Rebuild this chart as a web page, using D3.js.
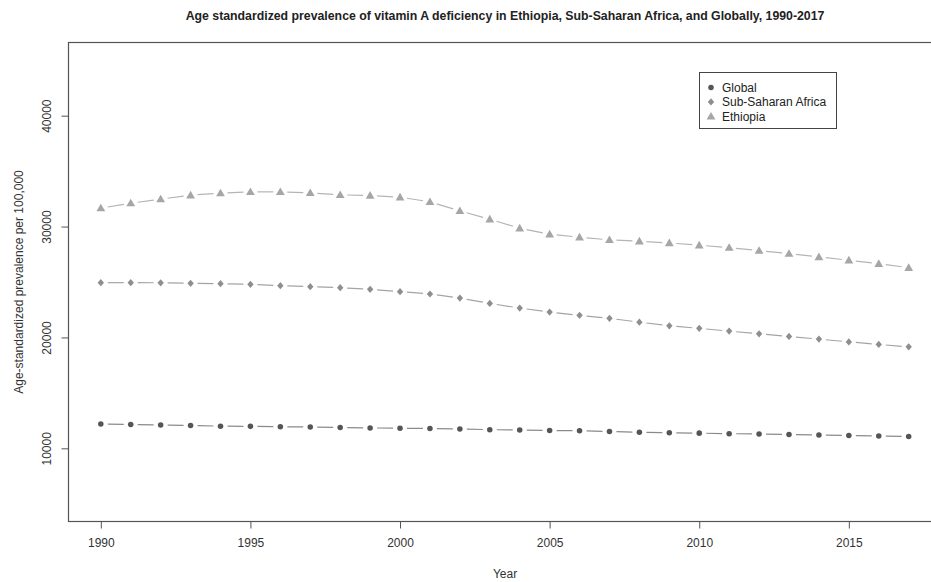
<!DOCTYPE html>
<html>
<head>
<meta charset="utf-8">
<script src="https://cdn.jsdelivr.net/npm/d3@7"></script>
<style>
  body { margin: 0; background: #fff; }
  svg { font-family: "Liberation Sans", Arial, sans-serif; }
</style>
</head>
<body>
<svg id="chart"></svg>
<script>
// years 1990..2017
const years = [1990, 1991, 1992, 1993, 1994, 1995, 1996, 1997, 1998, 1999,
               2000, 2001, 2002, 2003, 2004, 2005, 2006, 2007, 2008, 2009,
               2010, 2011, 2012, 2013, 2014, 2015, 2016, 2017]

const global = [12200, 12150, 12100, 12050, 12000, 11980, 11950, 11920, 11880, 11840,
                11810, 11790, 11750, 11680, 11650, 11610, 11580, 11520, 11450, 11400,
                11370, 11320, 11290, 11250, 11210, 11150, 11110, 11060]

const ssa = [24940, 24940, 24930, 24880, 24850, 24790, 24670, 24580, 24490, 24340,
             24130, 23920, 23550, 23070, 22650, 22290, 21990, 21720, 21380, 21050,
             20820, 20570, 20330, 20090, 19850, 19600, 19370, 19150]

const ethiopia = [31660, 32110, 32470, 32830, 33020, 33130, 33130, 33040, 32860, 32800,
                  32650, 32230, 31420, 30660, 29850, 29310, 29040, 28800, 28680, 28520,
                  28320, 28100, 27830, 27560, 27260, 26960, 26650, 26290]

const xTicks = [1990, 1995, 2000, 2005, 2010, 2015]
const yTicks = [10000, 20000, 30000, 40000]
const legendNames = ["Global", "Sub-Saharan Africa", "Ethiopia"]

let w = 931
let h = 582

let svg = d3.select("#chart")
    .attr("width", w)
    .attr("height", h)

// plot region (R style, 4% padding on the data range)
let x = d3.scaleLinear().domain([1988.92, 2018.08]).range([68.5, 941])
let y = d3.scaleLinear().domain([3400, 46600]).range([521.5, 42.5])

let series = [
    { name: legendNames[0], values: global,   shape: "circle",   fill: "#555", line: "#8a8a8a" },
    { name: legendNames[1], values: ssa,      shape: "diamond",  fill: "#8e8e8e", line: "#a4a4a4" },
    { name: legendNames[2], values: ethiopia, shape: "triangle", fill: "#a6a6a6", line: "#b4b4b4" }
]

function symbolPath(shape) {
    if (shape == "circle") return d3.symbol(d3.symbolCircle, 24)()
    if (shape == "diamond") return "M0,-3.6L3.2,0L0,3.6L-3.2,0Z"
    return "M0,-4.4L4.4,3.2L-4.4,3.2Z"
}

// title
svg.append("text")
    .attr("x", 505)
    .attr("y", 20)
    .attr("text-anchor", "middle")
    .attr("font-weight", "bold")
    .attr("font-size", "12.3px")
    .attr("fill", "#222")
    .text("Age standardized prevalence of vitamin A deficiency in Ethiopia, Sub-Saharan Africa, and Globally, 1990-2017")

// x axis
let xAxis = svg.append("g")
    .attr("transform", "translate(0,521.5)")
    .call(d3.axisBottom(x).tickValues(xTicks).tickFormat(d3.format("d")).tickSize(7).tickPadding(10))
xAxis.select(".domain").remove()
xAxis.selectAll("line").attr("stroke", "#555")
xAxis.selectAll("text").attr("font-size", "12px").attr("fill", "#333").attr("font-family", "Liberation Sans, Arial, sans-serif")

// y axis
let yAxis = svg.append("g")
    .attr("transform", "translate(68.5,0)")
    .call(d3.axisLeft(y).tickValues(yTicks).tickFormat(d3.format("d")).tickSize(7))
yAxis.select(".domain").remove()
yAxis.selectAll("line").attr("stroke", "#555")
yAxis.selectAll("text")
    .attr("font-size", "12px")
    .attr("fill", "#333")
    .attr("font-family", "Liberation Sans, Arial, sans-serif")
    .attr("text-anchor", "middle")
    .attr("x", null)
    .attr("dy", null)
    .attr("transform", "translate(-18,0) rotate(-90)")

// axis titles
svg.append("text")
    .attr("x", 505)
    .attr("y", 578)
    .attr("text-anchor", "middle")
    .attr("font-size", "12px")
    .attr("fill", "#333")
    .text("Year")

svg.append("text")
    .attr("transform", "translate(23,282) rotate(-90)")
    .attr("text-anchor", "middle")
    .attr("font-size", "12px")
    .attr("fill", "#333")
    .text("Age-standardized prevalence per 100,000")

// box
svg.append("rect")
    .attr("x", 68.5)
    .attr("y", 42.5)
    .attr("width", 941 - 68.5)
    .attr("height", 521.5 - 42.5)
    .attr("fill", "none")
    .attr("stroke", "#555")
    .attr("stroke-width", 1.2)

// type = "b": segments broken around points
let gap = 7
for (const s of series) {
    let pts = years.map((yr, i) => [x(yr), y(s.values[i])])
    let segs = []
    for (let i = 0; i < pts.length - 1; i++) {
        let [x1, y1] = pts[i]
        let [x2, y2] = pts[i + 1]
        let len = Math.hypot(x2 - x1, y2 - y1)
        let ux = (x2 - x1) / len, uy = (y2 - y1) / len
        segs.push([x1 + ux * gap, y1 + uy * gap, x2 - ux * gap, y2 - uy * gap])
    }
    let g = svg.append("g")
    g.selectAll("line")
        .data(segs)
        .join("line")
        .attr("x1", d => d[0])
        .attr("y1", d => d[1])
        .attr("x2", d => d[2])
        .attr("y2", d => d[3])
        .attr("stroke", s.line)
        .attr("stroke-width", 1.2)
    g.selectAll("path")
        .data(pts)
        .join("path")
        .attr("d", symbolPath(s.shape))
        .attr("transform", d => "translate(" + d[0] + "," + d[1] + ")")
        .attr("fill", s.fill)
}

// legend
let lg = svg.append("g")
lg.append("rect")
    .attr("x", 699.5)
    .attr("y", 72.5)
    .attr("width", 137)
    .attr("height", 56)
    .attr("fill", "#fff")
    .attr("stroke", "#444")
    .attr("stroke-width", 1)
series.forEach((s, i) => {
    let cy = 87.5 + i * 14.4
    lg.append("path")
        .attr("d", symbolPath(s.shape))
        .attr("transform", "translate(711," + cy + ")")
        .attr("fill", s.fill)
    lg.append("text")
        .attr("x", 722)
        .attr("y", cy + 4.3)
        .attr("font-size", "12px")
        .attr("fill", "#222")
        .text(s.name)
})
</script>
</body>
</html>
